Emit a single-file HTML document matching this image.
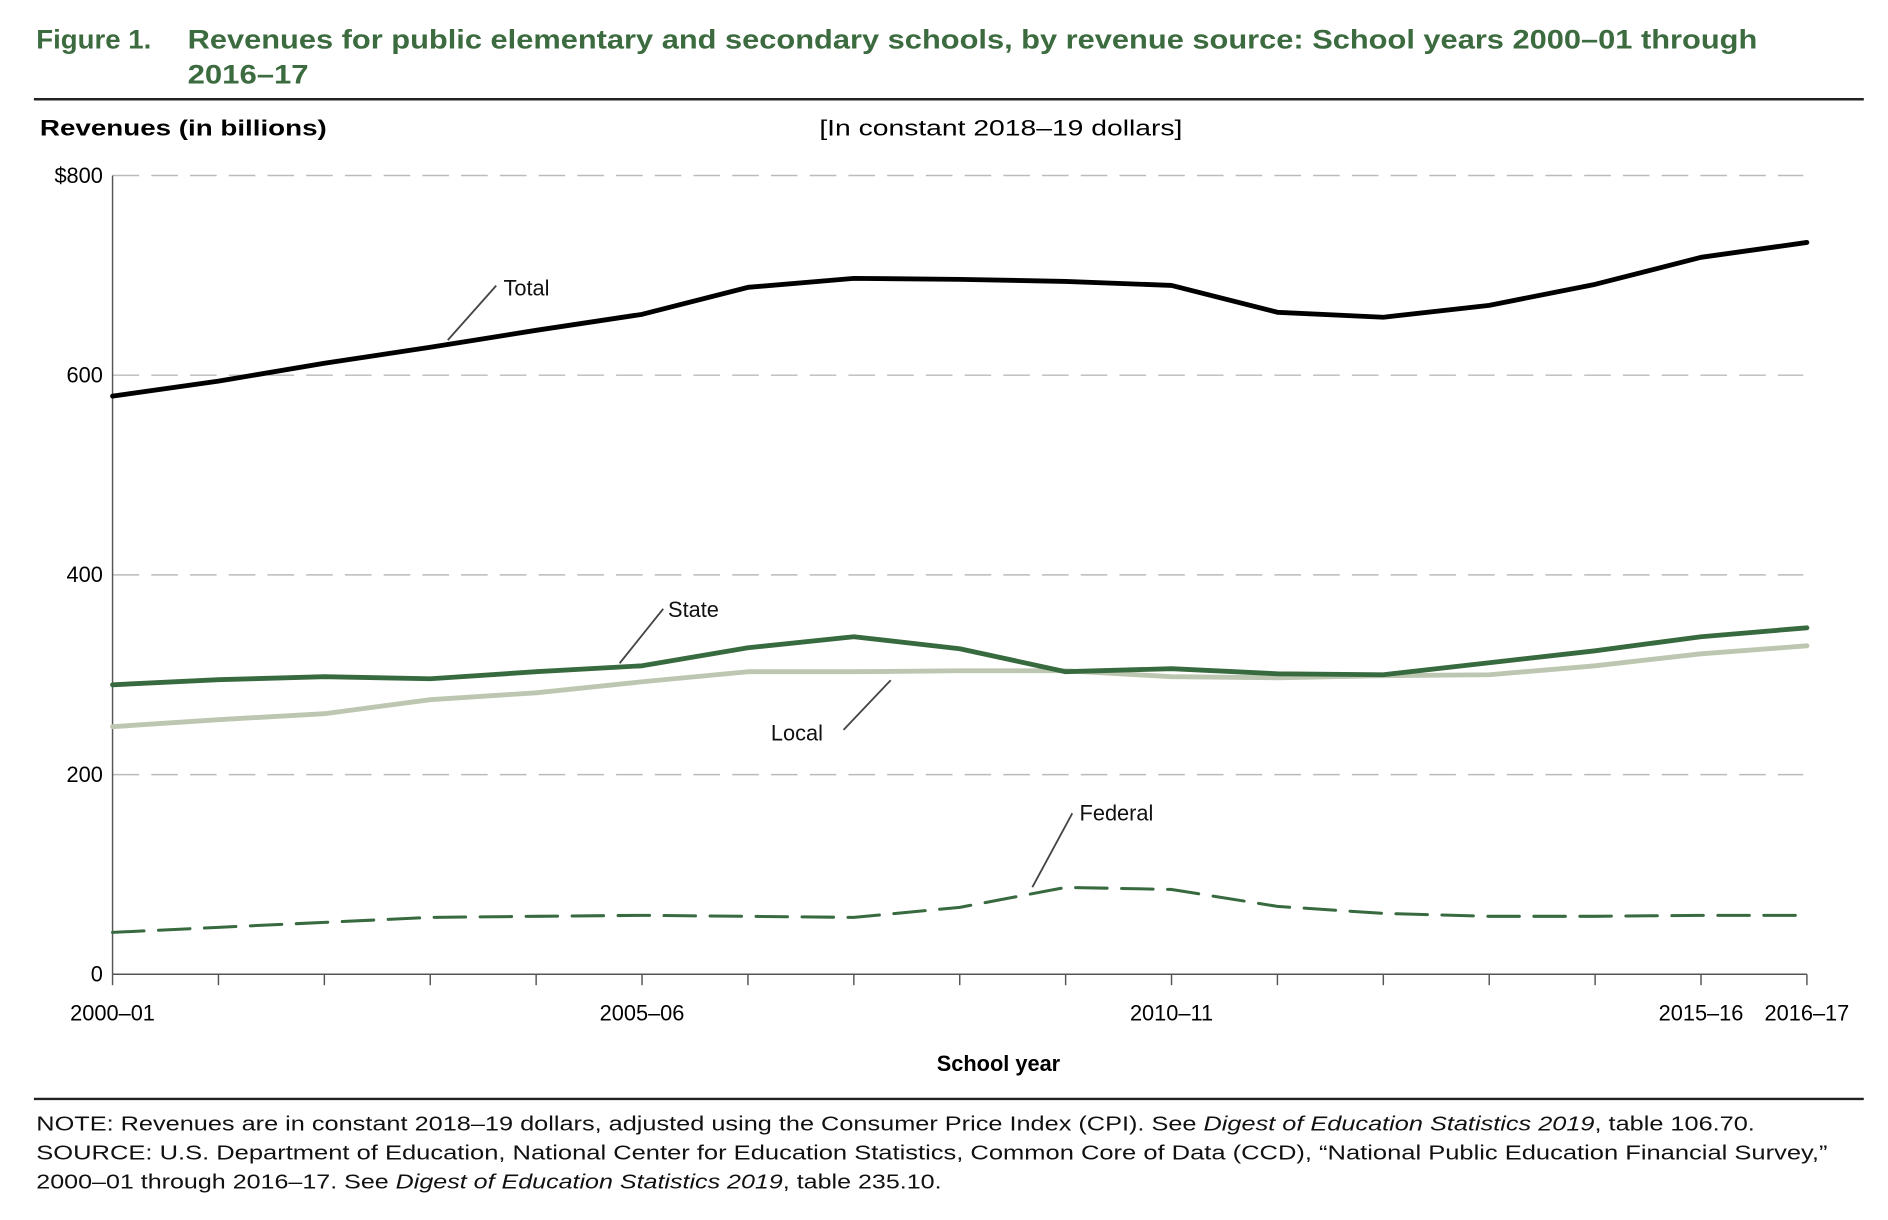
<!DOCTYPE html>
<html><head><meta charset="utf-8"><style>
html,body{margin:0;padding:0;background:#fff}
svg{display:block}
text{font-family:"Liberation Sans",sans-serif}
</style></head><body>
<svg id="chart" width="1888" height="1220" viewBox="0 0 1560 1008" xmlns="http://www.w3.org/2000/svg">
<g fill="#3b6b3e" font-weight="bold" font-size="22">
<text x="30" y="40" textLength="95" lengthAdjust="spacingAndGlyphs">Figure 1.</text>
<text x="155" y="40" textLength="1297" lengthAdjust="spacingAndGlyphs">Revenues for public elementary and secondary schools, by revenue source: School years 2000–01 through</text>
<text x="155" y="69" textLength="100" lengthAdjust="spacingAndGlyphs">2016–17</text>
</g>
<line x1="28" y1="82" x2="1540" y2="82" stroke="#222" stroke-width="2"/>
<text x="33" y="112" font-size="18" font-weight="bold" textLength="237" lengthAdjust="spacingAndGlyphs">Revenues (in billions)</text>
<text x="677" y="112" font-size="18" textLength="300" lengthAdjust="spacingAndGlyphs">[In constant 2018–19 dollars]</text>
<g id="grid"></g><g id="axes"></g><g id="series"></g>
<g font-size="18" fill="#111">
<line x1="370" y1="281" x2="410" y2="236" stroke="#444" stroke-width="1.5"/>
<text x="416" y="244">Total</text>
<line x1="512" y1="548" x2="548" y2="503" stroke="#444" stroke-width="1.5"/>
<text x="552" y="510">State</text>
<line x1="697" y1="603" x2="736" y2="562" stroke="#444" stroke-width="1.5"/>
<text x="637" y="612">Local</text>
<line x1="853" y1="733" x2="886" y2="672" stroke="#444" stroke-width="1.5"/>
<text x="892" y="678">Federal</text>
</g>
<text x="825" y="885" font-size="18" font-weight="bold" text-anchor="middle">School year</text>
<line x1="28" y1="908" x2="1540" y2="908" stroke="#222" stroke-width="2"/>
<g font-size="16.5" fill="#111">
<text x="30" y="934" textLength="1420" lengthAdjust="spacingAndGlyphs">NOTE: Revenues are in constant 2018–19 dollars, adjusted using the Consumer Price Index (CPI). See <tspan font-style="italic">Digest of Education Statistics 2019</tspan>, table 106.70.</text>
<text x="30" y="958" textLength="1480" lengthAdjust="spacingAndGlyphs">SOURCE: U.S. Department of Education, National Center for Education Statistics, Common Core of Data (CCD), “National Public Education Financial Survey,”</text>
<text x="30" y="982" textLength="748" lengthAdjust="spacingAndGlyphs">2000–01 through 2016–17. See <tspan font-style="italic">Digest of Education Statistics 2019</tspan>, table 235.10.</text>
</g>
</svg>
<script>
const years = ["2000–01","2001–02","2002–03","2003–04","2004–05","2005–06","2006–07","2007–08","2008–09","2009–10","2010–11","2011–12","2012–13","2013–14","2014–15","2015–16","2016–17"];
const xLabels = ["2000–01","2005–06","2010–11","2015–16","2016–17"];
const yTicks = [0,200,400,600,800];
const totalVals = [579,594,612,628,645,661,688,697,696,694,690,663,658,670,691,718,733];
const stateVals = [290,295,298,296,303,309,327,338,326,303,306,301,300,312,324,338,347];
const localVals = [248,255,261,275,282,293,303,303,304,304,298,297,299,300,309,321,329];
const federalVals = [42,47,52,57,58,59,58,57,67,87,85,68,61,58,58,59,59];

const NS="http://www.w3.org/2000/svg";
const x0=93,x1=1493,yBase=805,yTop=145;
const xs=i=>x0+i*(x1-x0)/(years.length-1);
const ys=v=>yBase-v*(yBase-yTop)/800;
function mk(tag,attrs,parent){const e=document.createElementNS(NS,tag);for(const k in attrs)e.setAttribute(k,attrs[k]);parent.appendChild(e);return e;}
const grid=document.getElementById('grid'),axes=document.getElementById('axes'),ser=document.getElementById('series');
yTicks.forEach(t=>{
  if(t>0){const g=mk('line',{x1:x0,x2:1490,y1:ys(t),y2:ys(t),stroke:'#bbb','stroke-width':1.2,'stroke-dasharray':'22 10'},grid);
  
  }
  const l=mk('text',{x:85,y:ys(t)+6,'font-size':18,'text-anchor':'end'},axes);
  l.textContent=t===800?'$800':String(t);
  
  
});
const ya=mk('line',{x1:x0,x2:x0,y1:yTop,y2:yBase,stroke:'#555','stroke-width':1.2},axes);


const xa=mk('line',{x1:x0,x2:x1,y1:yBase,y2:yBase,stroke:'#555','stroke-width':1.2},axes);


years.forEach((y,i)=>{
  const t=mk('line',{x1:xs(i),x2:xs(i),y1:yBase,y2:yBase+9,stroke:'#555','stroke-width':1.2},axes);
  
  
  if(xLabels.includes(y)){
    const l=mk('text',{x:xs(i),y:843,'font-size':18,'text-anchor':'middle'},axes);
    l.textContent=y;
    
    
  }
});
function line(vals,name,color,w,dash){
  const d=vals.map((v,i)=>(i?'L':'M')+xs(i).toFixed(1)+' '+ys(v).toFixed(1)).join(' ');
  const p=mk('path',{d:d,fill:'none',stroke:color,'stroke-width':w,'stroke-linejoin':'round','stroke-linecap':'round'},ser);
  if(dash)p.setAttribute('stroke-dasharray',dash);
  
  
}
line(localVals,'local-line','#bcc6b0',4);
line(stateVals,'state-line','#386a3f',4);
line(federalVals,'federal-line','#386a3f',2.5,'26 12');
line(totalVals,'total-line','#000',4);
</script>
</body></html>
